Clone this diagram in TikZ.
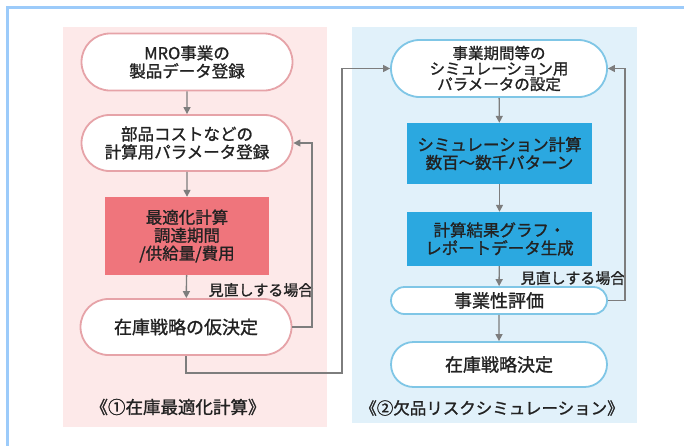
\documentclass[tikz,border=0pt]{standalone}
\usepackage{fontspec}
\newfontfamily\cjk[FakeBold=1.2]{Noto Sans CJK JP}
\usetikzlibrary{shapes.misc,arrows.meta}
\definecolor{framebl}{HTML}{9CCBFA}
\definecolor{pinkbg}{HTML}{FDE9E9}
\definecolor{bluebg}{HTML}{E1F1FA}
\definecolor{pinkbd}{HTML}{E6A3A8}
\definecolor{bluebd}{HTML}{7FC6E6}
\definecolor{redbox}{HTML}{EF757C}
\definecolor{bluebox}{HTML}{2BA8E0}
\definecolor{arrgray}{HTML}{7D7D7D}
\definecolor{txt}{HTML}{222222}
\tikzset{
  every node/.style={text=txt, font=\cjk\fontsize{16.5}{18}\selectfont, align=center},
  pinkpill/.style={rounded rectangle, draw=pinkbd, line width=1.8pt, fill=white, minimum width=211pt, inner sep=0pt},
  bluepill/.style={rounded rectangle, draw=bluebd, line width=1.8pt, fill=white, minimum width=216pt, inner sep=0pt},
  redrect/.style={rectangle, fill=redbox, minimum width=164pt, minimum height=78pt, inner sep=0pt},
  bluerect/.style={rectangle, fill=bluebox, minimum width=185pt, inner sep=0pt},
  arr/.style={draw=arrgray, line width=1.4pt, -{Triangle[length=7pt,width=7pt]}},
  lbl/.style={font=\cjk\fontsize{15}{17}\selectfont},
  bigtxt/.style={font=\cjk\fontsize{18}{18}\selectfont},
}
\begin{document}
\begin{tikzpicture}[x=1pt,y=-1pt]
\useasboundingbox (0,0) rectangle (684,445);
\fill[white] (0,0) rectangle (684,445);
% frame
\draw[framebl, line width=3pt] (7.5,447) -- (7.5,7.5) -- (686,7.5);
% panels
\fill[pinkbg] (63,27) rectangle (327,427);
\fill[bluebg] (352,27) rectangle (637,423);
% left nodes
\node[pinkpill, minimum height=57pt] (n1) at (187,62) {MRO事業の\\製品データ登録};
\node[pinkpill, minimum height=56pt] (n2) at (187,143) {部品コストなどの\\計算用パラメータ登録};
\node[redrect] (n3) at (187,236) {最適化計算\\調達期間\\/供給量/費用};
\node[pinkpill, minimum height=56pt, bigtxt] (n4) at (186,327) {在庫戦略の仮決定};
\node[font=\cjk\fontsize{17.5}{18}\selectfont] (t1) at (178,407) {《①在庫最適化計算》};
\node[lbl] (m1) at (261,290) {見直しする場合};
% right nodes
\node[bluepill, minimum height=57pt, font=\cjk\fontsize{15.5}{15.5}\selectfont] (r1) at (499,68.5) {事業期間等の\\シミュレーション用\\パラメータの設定};
\node[bluerect, minimum height=61pt] (r2) at (499.5,153.5) {シミュレーション計算\\数百～数千パターン};
\node[bluerect, minimum height=54pt] (r3) at (499.5,239) {計算結果グラフ・\\レポートデータ生成};
\node[bluepill, minimum height=27pt, bigtxt] (r4) at (499,300.5) {事業性評価};
\node[bluepill, minimum height=45pt, bigtxt] (r5) at (499,364.5) {在庫戦略決定};
\node (t2) at (492,408) {《②欠品リスクシミュレーション》};
\node[lbl] (m2) at (573,278) {見直しする場合};
% connectors
\draw[arr] (n1) -- (n2);
\draw[arr] (n2) -- (n3);
\draw[arr] (n3) -- (n4);
\draw[arr] (r1) -- (r2);
\draw[arr] (r2) -- (r3);
\draw[arr] (r3) -- (r4);
\draw[arr] (r4) -- (r5);
\coordinate (c1) at (312,327);
\draw[arr] (n4.east) -- (c1) |- (n2.east);
\coordinate (c2) at (342,373);
\draw[arr] (n4.south) |- (c2) |- (r1.west);
\coordinate (c3) at (625,300.5);
\draw[arr] (r4.east) -- (c3) |- (r1.east);
\end{tikzpicture}
\end{document}
